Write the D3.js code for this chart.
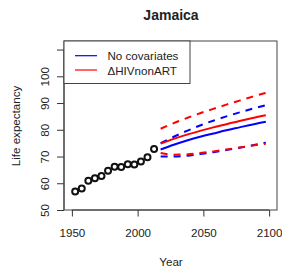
<!DOCTYPE html>
<html><head><meta charset="utf-8">
<script src="https://cdn.jsdelivr.net/npm/d3@7"></script>
<style>body{margin:0;background:#fff}svg{display:block}text{font-family:"Liberation Sans",Arial,sans-serif;fill:#222}</style>
</head><body><svg id="c" width="282" height="276"></svg>
<script>
const obsYears = [1952.5,1957.5,1962.5,1967.5,1972.5,1977.5,1982.5,1987.5,1992.5,1997.5,2002.5,2007.5,2012.5];
const obsValues = [56.9,58.0,60.9,61.9,62.7,64.7,66.2,66.1,67.1,67.0,68.1,69.7,72.8];
const projYears = [2017.5,2027.5,2037.5,2047.5,2057.5,2067.5,2077.5,2087.5,2097.5];
const blueMedian = [72.6,74.4,76.0,77.4,78.6,79.8,80.9,82.0,83.0];
const blueUpper  = [75.0,77.4,79.6,81.6,83.4,85.0,86.5,87.9,89.2];
const blueLower  = [70.0,70.0,70.3,70.9,71.6,72.4,73.3,74.2,75.2];
const redMedian  = [74.8,76.6,78.2,79.6,80.9,82.1,83.3,84.4,85.4];
const redUpper   = [80.4,82.5,84.4,86.2,87.8,89.4,90.9,92.4,93.8];
const redLower   = [71.3,70.7,70.8,71.3,71.9,72.6,73.4,74.1,74.8];
const xTicks = [1950,2000,2050,2100];
const yTicks = [50,60,70,80,90,100,110];
const yLabelled = [50,60,70,80,90,100];
const legendLabels = ["No covariates","\u0394HIVnonART"];
const legendColors = ["#0000ff","#ff0000"];

const svg = d3.select("#c");
const L=64,R=277,T=41,B=210;
const x = d3.scaleLinear().domain([1944,2106]).range([L,R]);
const y = d3.scaleLinear().domain([50,113.2]).range([B,T]);

// axes
const xa = svg.append("g").attr("transform",`translate(0,${B})`)
  .call(d3.axisBottom(x).tickValues(xTicks).tickSize(6.5).tickPadding(12.5).tickFormat(d3.format("d")));
const ya = svg.append("g").attr("transform",`translate(${L},0)`)
  .call(d3.axisLeft(y).tickValues(yTicks).tickSize(7).tickFormat(d=>yLabelled.includes(d)?d:""));
[xa,ya].forEach(g=>{g.select(".domain").remove();g.selectAll("line").attr("stroke","#333");g.selectAll("text").style("font-size","11.6px").attr("fill","#222");});
xa.selectAll("text").attr("dy","0.71em");
ya.selectAll(".tick text").each(function(d){
  d3.select(this).attr("x",0).attr("dy",null).attr("text-anchor","middle").attr("dominant-baseline","central")
   .attr("transform",`translate(-19.5,0) rotate(-90)`);
});
// axis lines along ticks
svg.append("line").attr("x1",x(1950)).attr("x2",x(2100)).attr("y1",B).attr("y2",B).attr("stroke","#333");
svg.append("line").attr("x1",L).attr("x2",L).attr("y1",y(50)).attr("y2",y(110)).attr("stroke","#333");

// box
svg.append("rect").attr("x",L).attr("y",T).attr("width",R-L).attr("height",B-T).attr("fill","none").attr("stroke","#444").attr("stroke-width",1);

// projections
const line = d3.line().x((d,i)=>x(projYears[i])).y(d=>y(d)).curve(d3.curveMonotoneX);
const series = [
  [blueUpper,"#0000ff",true],[blueLower,"#0000ff",true],[blueMedian,"#0000ff",false],
  [redUpper,"#ff0000",true],[redLower,"#ff0000",true],[redMedian,"#ff0000",false]
];
series.forEach(([v,c,dash])=>{
  svg.append("path").attr("d",line(v)).attr("fill","none").attr("stroke",c).attr("stroke-width",2)
    .attr("stroke-dasharray",dash?"7,6":null);
});

// observed points
svg.append("g").selectAll("circle").data(obsValues).join("circle")
  .attr("cx",(d,i)=>x(obsYears[i])).attr("cy",d=>y(d)).attr("r",3)
  .attr("fill","none").attr("stroke","#111").attr("stroke-width",2);

// legend
svg.append("rect").attr("x",L).attr("y",T).attr("width",126).attr("height",42.5).attr("fill","#fff").attr("stroke","#444");
legendLabels.forEach((t,i)=>{
  const yy = 55.7 + i*14.3;
  svg.append("line").attr("x1",75).attr("x2",97).attr("y1",yy).attr("y2",yy).attr("stroke",legendColors[i]).attr("stroke-width",1.2);
  svg.append("text").attr("x",107.5).attr("y",yy).attr("dominant-baseline","central").style("font-size","11.6px").text(t);
});

// titles
svg.append("text").attr("x",171).attr("y",19.5).attr("text-anchor","middle").style("font-size","14px").style("font-weight","bold").text("Jamaica");
svg.append("text").attr("x",171).attr("y",261).attr("text-anchor","middle").attr("dominant-baseline","central").style("font-size","11.6px").text("Year");
svg.append("text").attr("transform","translate(15.5,126) rotate(-90)").attr("text-anchor","middle").attr("dominant-baseline","central").style("font-size","11.6px").text("Life expectancy");
</script></body></html>
